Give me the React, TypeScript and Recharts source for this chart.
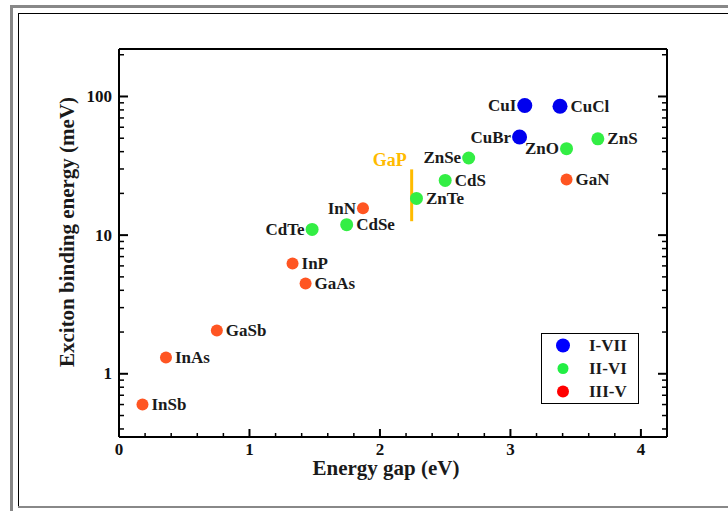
import { ScatterChart, Scatter, XAxis, YAxis, ReferenceLine, Legend } from "recharts";

// I-VII compounds
const i7Names = ["CuI", "CuCl", "CuBr"];
const i7Gap = [3.11, 3.38, 3.07];
const i7Eb = [86, 85, 51];

// II-VI compounds
const ii6Names = ["ZnO", "ZnS", "ZnSe", "CdS", "ZnTe", "CdSe", "CdTe"];
const ii6Gap = [3.43, 3.67, 2.68, 2.5, 2.28, 1.745, 1.48];
const ii6Eb = [42, 49.5, 36, 24.8, 18.4, 11.9, 11.0];

// III-V compounds
const iii5Names = ["GaN", "InN", "InP", "GaAs", "GaSb", "InAs", "InSb"];
const iii5Gap = [3.43, 1.87, 1.33, 1.43, 0.75, 0.36, 0.18];
const iii5Eb = [25.2, 15.6, 6.25, 4.48, 2.05, 1.31, 0.6];

// GaP range bar
const gapGaP = 2.243;
const ebGaP = [12.6, 29.8];

const xMajor = [0, 1, 2, 3, 4];
const xTicks = [
  0, 0.2, 0.4, 0.6, 0.8, 1, 1.2, 1.4, 1.6, 1.8, 2, 2.2, 2.4, 2.6, 2.8, 3, 3.2, 3.4,
  3.6, 3.8, 4,
];
const yMajor = [1, 10, 100];
const yTicks = [
  0.4, 0.5, 0.6, 0.7, 0.8, 0.9, 1, 2, 3, 4, 5, 6, 7, 8, 9, 10, 20, 30, 40, 50, 60,
  70, 80, 90, 100, 200,
];

// labels drawn on the left side of the dot
const leftLabels = ["CuI", "CuBr", "ZnO", "ZnSe", "InN", "CdTe"];

const serif = '"Liberation Serif", "Times New Roman", serif';

const toRows = (names: string[], gap: number[], eb: number[]) =>
  names.map((name, i) => ({ name, gap: gap[i], eb: eb[i] }));

const i7Data = toRows(i7Names, i7Gap, i7Eb);
const ii6Data = toRows(ii6Names, ii6Gap, ii6Eb);
const iii5Data = toRows(iii5Names, iii5Gap, iii5Eb);

const legendColors: Record<string, string> = {
  "I-VII": "#0000ff",
  "II-VI": "#22ee44",
  "III-V": "#ff0000",
};
const legendRadius: Record<string, number> = { "I-VII": 7, "II-VI": 5.5, "III-V": 6 };

const makeShape = (r: number, color: string) => (props: any) => {
  const { cx, cy, payload } = props;
  const left = leftLabels.includes(payload.name);
  return (
    <g>
      <circle cx={cx} cy={cy} r={r} fill={color} />
      <text
        x={left ? cx - r - 1 : cx + r + 3}
        y={cy}
        textAnchor={left ? "end" : "start"}
        dominantBaseline="central"
        fontFamily={serif}
        fontWeight="bold"
        fontSize={17}
        fill="#1a1a1a"
      >
        {payload.name}
      </text>
    </g>
  );
};

const LeftTick = (props: any) => {
  const { x, y, payload } = props;
  const major = yMajor.includes(payload.value);
  return (
    <g>
      <line x1={x} x2={x + (major ? 9 : 5)} y1={y} y2={y} stroke="#000" strokeWidth={major ? 2 : 1.5} />
      {major && (
        <text x={x - 7} y={y} textAnchor="end" dominantBaseline="central" fontFamily={serif} fontWeight="bold" fontSize={17} fill="#111">
          {payload.value}
        </text>
      )}
    </g>
  );
};

const RightTick = (props: any) => {
  const { x, y, payload } = props;
  const major = yMajor.includes(payload.value);
  return <line x1={x} x2={x - (major ? 9 : 5)} y1={y} y2={y} stroke="#000" strokeWidth={major ? 2 : 1.5} />;
};

const BottomTick = (props: any) => {
  const { x, y, payload } = props;
  const major = xMajor.includes(payload.value);
  return (
    <g>
      <line x1={x} x2={x} y1={y} y2={y - (major ? 8 : 4)} stroke="#000" strokeWidth={major ? 2 : 1.5} />
      {major && (
        <text x={x} y={y + 18} textAnchor="middle" fontFamily={serif} fontWeight="bold" fontSize={17} fill="#111">
          {payload.value}
        </text>
      )}
    </g>
  );
};

const TopTick = (props: any) => {
  const { x, y, payload } = props;
  const major = xMajor.includes(payload.value);
  return <line x1={x} x2={x} y1={y} y2={y + (major ? 8 : 4)} stroke="#000" strokeWidth={major ? 2 : 1.5} />;
};

const LegendBox = (props: any) => {
  const items = (props.payload || []) as any[];
  return (
    <div style={{ border: "1px solid #000", width: 96, height: 69, background: "#fff", boxSizing: "content-box" }}>
      {items.map((it) => (
        <div key={it.value} style={{ display: "flex", alignItems: "center", height: 23 }}>
          <svg width={47} height={23}>
            <circle cx={21} cy={11.5} r={legendRadius[it.value]} fill={legendColors[it.value]} />
          </svg>
          <span style={{ fontFamily: serif, fontWeight: "bold", fontSize: 17, color: "#1a1a1a" }}>{it.value}</span>
        </div>
      ))}
    </div>
  );
};

const axisLine = { stroke: "#000", strokeWidth: 2 };

export default function App() {
  return (
    <div style={{ position: "absolute", left: 0, top: 0, width: 728, height: 511, background: "#fff", overflow: "hidden" }}>
      {/* page frame */}
      <div style={{ position: "absolute", left: 10, top: 5, right: 0, height: 3, background: "#888" }} />
      <div style={{ position: "absolute", left: 10, top: 5, width: 3, bottom: 0, background: "#888" }} />
      <div style={{ position: "absolute", left: 18, top: 13, right: 0, height: 1, background: "#000" }} />
      <div style={{ position: "absolute", left: 18, top: 13, width: 1, height: 493, background: "#000" }} />
      <div style={{ position: "absolute", left: 18, top: 506, right: 0, height: 2, background: "#888" }} />

      <div style={{ position: "absolute", left: 0, top: 0 }}>
        <ScatterChart width={728} height={511} margin={{ top: 48, right: 60, bottom: 73, left: 118 }}>
          <XAxis
            type="number"
            dataKey="gap"
            domain={[0, 4.2]}
            ticks={xTicks}
            interval={0}
            height={1}
            tickSize={0}
            tickMargin={0}
            tickLine={false}
            axisLine={axisLine}
            tick={<BottomTick />}
            allowDataOverflow
          />
          <XAxis
            xAxisId="top"
            orientation="top"
            type="number"
            domain={[0, 4.2]}
            ticks={xTicks}
            interval={0}
            height={1}
            tickSize={0}
            tickMargin={0}
            tickLine={false}
            axisLine={axisLine}
            tick={<TopTick />}
            allowDataOverflow
          />
          <YAxis
            type="number"
            dataKey="eb"
            scale="log"
            domain={[0.35, 220]}
            ticks={yTicks}
            interval={0}
            width={1}
            tickSize={0}
            tickMargin={0}
            tickLine={false}
            axisLine={axisLine}
            tick={<LeftTick />}
            allowDataOverflow
          />
          <YAxis
            yAxisId="right"
            orientation="right"
            type="number"
            scale="log"
            domain={[0.35, 220]}
            ticks={yTicks}
            interval={0}
            width={1}
            tickSize={0}
            tickMargin={0}
            tickLine={false}
            axisLine={axisLine}
            tick={<RightTick />}
            allowDataOverflow
          />
          <ReferenceLine
            segment={[
              { x: gapGaP, y: ebGaP[0] },
              { x: gapGaP, y: ebGaP[1] },
            ]}
            stroke="#ffbb00"
            strokeWidth={3}
            label={{
              value: "GaP",
              position: "top",
              dx: -22,
              offset: 3,
              fill: "#ffbb00",
              fontSize: 18,
              fontWeight: "bold",
              fontFamily: serif,
            }}
          />
          <Scatter name="I-VII" data={i7Data} fill="#0000ff" shape={makeShape(7.5, "#0000ee")} isAnimationActive={false} />
          <Scatter name="II-VI" data={ii6Data} fill="#22ee44" shape={makeShape(6.5, "#33ee44")} isAnimationActive={false} />
          <Scatter name="III-V" data={iii5Data} fill="#ff0000" shape={makeShape(6, "#ff5522")} isAnimationActive={false} />
          <Legend
            layout="vertical"
            align="center"
            verticalAlign="middle"
            content={<LegendBox />}
            wrapperStyle={{ position: "absolute", left: 541, top: 333, width: 98, height: 71 }}
          />
        </ScatterChart>
      </div>

      <svg width={728} height={511} style={{ position: "absolute", left: 0, top: 0, pointerEvents: "none" }}>
        <text x={386} y={475} textAnchor="middle" fontFamily={serif} fontWeight="bold" fontSize={21} fill="#1a1a1a">
          Energy gap (eV)
        </text>
        <text
          x={0}
          y={0}
          transform="translate(74 232) rotate(-90)"
          textAnchor="middle"
          fontFamily={serif}
          fontWeight="bold"
          fontSize={21}
          fill="#1a1a1a"
        >
          Exciton binding energy (meV)
        </text>
      </svg>
    </div>
  );
}
